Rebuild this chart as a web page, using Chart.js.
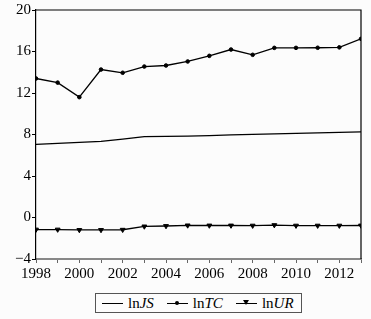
<!DOCTYPE html>
<html><head><meta charset="utf-8">
<script src="https://cdn.jsdelivr.net/npm/chart.js@4"></script>
<style>
html,body{margin:0;padding:0;background:#fcfcfc;}
#wrap{position:relative;width:371px;height:319px;}
#legend{position:absolute;left:95px;top:293px;width:207px;height:20px;border:1px solid #555;box-sizing:border-box;display:flex;align-items:center;font-family:"Liberation Serif",serif;font-size:15px;color:#000;background:#fcfcfc;padding-left:6px;}
.item{display:flex;align-items:center;margin-right:13px;}
.ln{position:relative;width:21px;height:0;border-top:1.3px solid #000;margin-right:5px;}
.dot{position:absolute;left:8px;top:-3px;width:4px;height:4px;border-radius:50%;background:#000;}
.tri{position:absolute;left:7.5px;top:-3.5px;width:0;height:0;border-left:3px solid transparent;border-right:3px solid transparent;border-top:5px solid #000;}
i{font-style:italic;}
</style></head>
<body>
<div id="wrap">
<canvas id="c" width="371" height="319"></canvas>
<div id="legend">
 <div class="item"><span class="ln"></span><span>ln<i>JS</i></span></div>
 <div class="item"><span class="ln"><span class="dot"></span></span><span>ln<i>TC</i></span></div>
 <div class="item" style="margin-right:0"><span class="ln"><span class="tri"></span></span><span>ln<i>UR</i></span></div>
</div>
</div>
<script>
const years = [1998,1999,2000,2001,2002,2003,2004,2005,2006,2007,2008,2009,2010,2011,2012,2013];
const lnJS = [7.04,7.15,7.24,7.33,7.55,7.8,7.82,7.84,7.9,7.96,8.02,8.06,8.1,8.15,8.2,8.26];
const lnTC = [13.4,13.0,11.6,14.26,13.95,14.55,14.65,15.04,15.58,16.19,15.68,16.35,16.35,16.36,16.4,17.22];
const lnUR = [-1.16,-1.16,-1.2,-1.2,-1.18,-0.86,-0.82,-0.76,-0.77,-0.77,-0.78,-0.73,-0.78,-0.78,-0.78,-0.77];
const yTicks = [-4,0,4,8,12,16,20];
const xLabelYears = [1998,2000,2002,2004,2006,2008,2010,2012];

const pts = arr => years.map((y,i)=>({x:y,y:arr[i]}));
const frame = {
  id:'frame',
  afterDraw(chart){
    const {ctx, chartArea:a} = chart;
    ctx.save();
    ctx.strokeStyle='#000'; ctx.lineWidth=1.2;
    ctx.beginPath();
    ctx.moveTo(a.left, a.top); ctx.lineTo(a.right, a.top); ctx.lineTo(a.right, a.bottom);
    ctx.stroke();
    ctx.restore();
  }
};
const font = {family:'"Liberation Serif", serif', size:15};
new Chart(document.getElementById('c'), {
  type:'line',
  data:{datasets:[
    {label:'lnJS', data:pts(lnJS), borderColor:'#000', borderWidth:1.3, pointRadius:0, tension:0},
    {label:'lnTC', data:pts(lnTC), borderColor:'#000', backgroundColor:'#000', borderWidth:1.3, pointRadius:1.8, pointBorderWidth:1, pointStyle:'circle', tension:0},
    {label:'lnUR', data:pts(lnUR), borderColor:'#000', backgroundColor:'#000', borderWidth:1.3, pointRadius:2.8, pointBorderWidth:1, pointStyle:'triangle', rotation:180, tension:0}
  ]},
  options:{
    responsive:false, animation:false,
    layout:{padding:{top:10, right:10, left:0, bottom:0}},
    plugins:{legend:{display:false}, tooltip:{enabled:false}},
    scales:{
      x:{type:'linear', min:1998, max:2013,
        afterFit(s){s.height=60;},
        afterBuildTicks(s){s.ticks = years.map(v=>({value:v}));},
        ticks:{font, color:'#000', padding:2, maxRotation:0, autoSkip:false,
          callback:v=> xLabelYears.includes(v) ? String(v) : ''},
        grid:{drawOnChartArea:false, drawTicks:true, tickLength:4, color:'#666', lineWidth:1},
        border:{display:true, color:'#888', width:2}
      },
      y:{min:-4, max:20,
        afterFit(s){s.width=36;},
        afterBuildTicks(s){s.ticks = yTicks.map(v=>({value:v}));},
        ticks:{font, color:'#000', padding:1,
          callback:v=> v<0 ? '\u2212'+Math.abs(v) : String(v)},
        grid:{drawOnChartArea:false, drawTicks:true, tickLength:4, color:'#000'},
        border:{display:true, color:'#000', width:1.2}
      }
    }
  },
  plugins:[frame]
});
</script>
</body></html>
